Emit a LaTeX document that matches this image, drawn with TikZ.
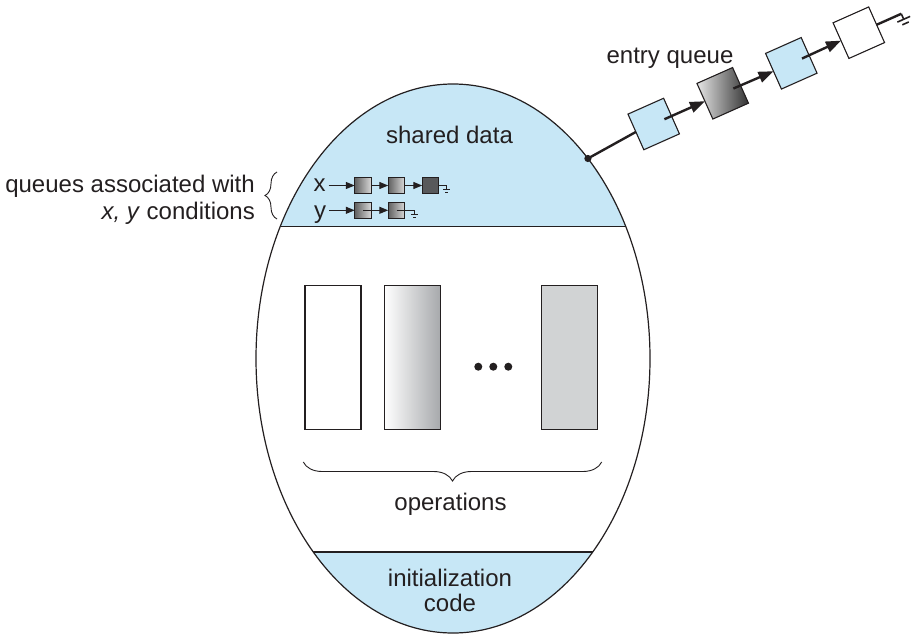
\documentclass[tikz,border=0pt]{standalone}
\usepackage{fontspec}
\setmainfont{Liberation Sans}
\usetikzlibrary{shapes.geometric,decorations.pathreplacing,arrows.meta,calc}
\definecolor{lblue}{RGB}{199,231,246}
\definecolor{opgray}{RGB}{209,211,212}
\definecolor{dgray}{RGB}{88,89,91}
\definecolor{ink}{RGB}{35,31,32}
\tikzset{
  txt/.style={inner sep=0pt, text=ink, font=\fontsize{24}{26}\selectfont},
  eqbox/.style={draw=ink, line width=1.1pt, minimum size=39pt, inner sep=0pt, outer sep=0pt, rotate=24},
  eqarrow/.style={draw=ink, line width=2.4pt, -{Triangle[length=15pt,width=11pt]}},
  sbox/.style={draw=ink, line width=0.9pt, minimum size=16.5pt, inner sep=0pt, outer sep=0pt},
  sgrad/.style={left color=black!62, right color=black!15},
  sarrow/.style={draw=ink, line width=1.3pt, -{Triangle[length=9pt,width=7pt]}},
  sline/.style={draw=ink, line width=1.3pt},
  opbox/.style={draw=ink, line width=1.1pt, minimum width=56pt, minimum height=143.5pt, inner sep=0pt},
  bracestyle/.style={draw=ink, line width=0.9pt, decorate},
  sgnd/.pic={\draw[ink, line width=0.8pt] (0,0) -- (0,4) (-3.5,4) -- (3.5,4) (-1.5,7) -- (1.5,7);}
}
\begin{document}
\begin{tikzpicture}[x=1pt,y=-1pt]
\useasboundingbox (0,0) rectangle (917,637);

% monitor ellipse with blue bands
\begin{scope}
  \clip (453,358.5) ellipse [x radius=197, y radius=274.5];
  \fill[lblue] (240,70) rectangle (670,226.7);
  \fill[lblue] (240,552) rectangle (670,645);
\end{scope}
\node[ellipse, draw=ink, line width=1.2pt, minimum width=394pt, minimum height=549pt, inner sep=0pt, outer sep=0pt] (mon) at (453,358.5) {};
\draw[ink, line width=1.4pt] (280.2,226.7) -- (625.8,226.7);
\draw[ink, line width=1.4pt] (313.3,552) -- (592.7,552);

% texts
\node[txt, anchor=base] (sd) at (449.5,143) {shared data};
\node[txt, anchor=base] (ops) at (450.5,510.7) {operations};
\node[txt, anchor=base] (in1) at (450,586) {initialization};
\node[txt, anchor=base] (in2) at (450,611.7) {code};
\node[txt, anchor=base] (eq) at (670,63) {entry queue};
\node[txt, anchor=base east] (q1) at (255,192) {queues associated with};
\node[txt, anchor=base east] (q2) at (255,219.5) {\textit{x, y} conditions};

% left brace
\draw[bracestyle, decoration={brace, amplitude=12pt}] (277,219) -- (277,172);

% small queues
\node[txt, anchor=base] (xl) at (319.5,191.7) {x};
\node[txt, anchor=base] (yl) at (320,218) {y};
\node[sbox, sgrad] (x1) at (363,185.5) {};
\node[sbox, sgrad] (x2) at (396.5,185.5) {};
\node[sbox, fill=dgray] (x3) at (430.5,185.5) {};
\node[sbox, sgrad] (y1) at (363,210.3) {};
\node[sbox, sgrad] (y2) at (396.5,210.3) {};
\draw[sarrow] ([xshift=3pt]xl.east |- x1.west) -- (x1.west);
\draw[sarrow] (x1.east) -- (x2.west);
\draw[sarrow] (x2.east) -- (x3.west);
\draw[sline] (x3.east) -- ++(8,0) coordinate (gx);
\path (gx) pic {sgnd};
\draw[sarrow] ([xshift=3pt]yl.east |- y1.west) -- (y1.west);
\draw[sarrow] (y1.center) -- (y2.west);
\draw[sline] (y2.center) -- ++(18,0) coordinate (gy);
\path (gy) pic {sgnd};

% operations
\node[opbox, fill=white] (op1) at (333,357.5) {};
\node[opbox, left color=white, right color={rgb,255:red,167;green,169;blue,172}] (op2) at (412.3,357.5) {};
\node[opbox, fill=opgray] (op3) at (569.8,357.5) {};
\fill[ink] (478.3,366.7) circle (4pt) (493.3,366.7) circle (4pt) (508.3,366.7) circle (4pt);
\draw[bracestyle, decoration={brace, amplitude=19pt}] (601.7,462) -- (303.3,462);

% entry queue
\node[eqbox, fill=lblue] (e1) at (653.7,124) {};
\node[eqbox, left color=black!10, right color=black!80] (e2) at (722.7,93.3) {};
\node[eqbox, fill=lblue] (e3) at (791.3,63.3) {};
\node[eqbox, fill=white] (e4) at (858.8,32.7) {};
\draw[ink, line width=2.4pt] (mon.56.5) -- (e1.west);
\fill[ink] (mon.56.5) circle (3.6pt);
\draw[eqarrow] ($(e1.center)!0.6!(e1.east)$) -- (e2.west);
\draw[eqarrow] ($(e2.center)!0.6!(e2.east)$) -- (e3.west);
\draw[eqarrow] ($(e3.center)!0.6!(e3.east)$) -- (e4.west);
\begin{scope}[shift={(e4.east)}, rotate=24]
  \draw[ink, line width=2.4pt] (0,0) -- (27,0);
  \draw[ink, line width=1.6pt] (27,0) -- (27,6) (20,6) -- (34,6) (23.5,10.5) -- (30.5,10.5);
\end{scope}
\end{tikzpicture}
\end{document}
